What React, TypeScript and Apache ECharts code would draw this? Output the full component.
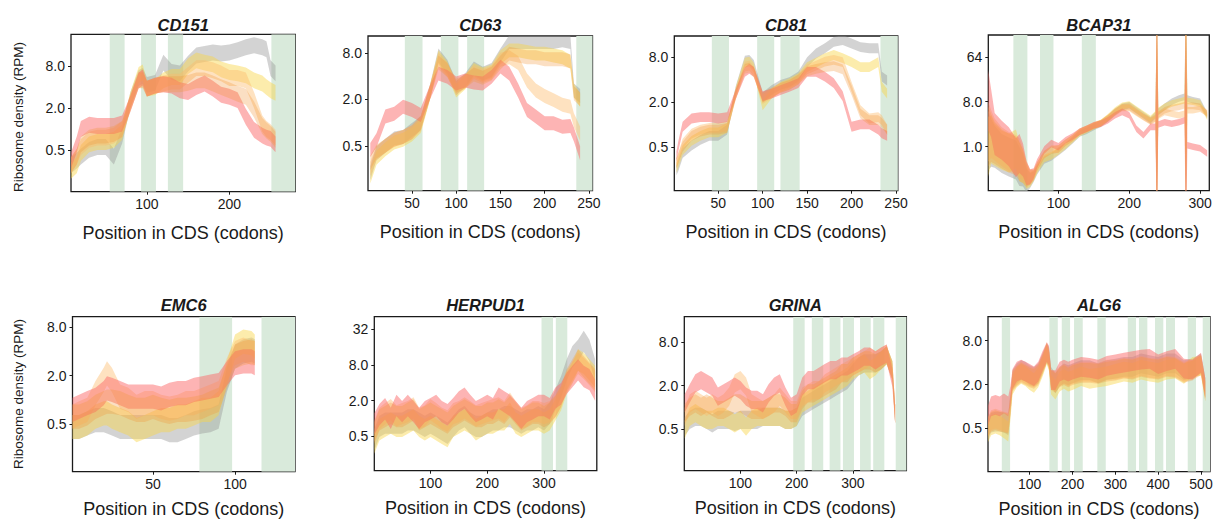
import React, { useEffect, useRef } from "react";
import * as echarts from "echarts";

// ---------- DATA ----------
const GENES = ["CD151", "CD63", "CD81", "BCAP31", "EMC6", "HERPUD1", "GRINA", "ALG6"];
const X_NAME = "Position in CDS (codons)";
const Y_NAME = "Ribosome density (RPM)";

// CD151
const xs1 = [8, 15, 20, 30, 40, 50, 60, 70, 80, 90, 95, 100, 110, 120, 130, 140, 150, 160, 170, 180, 190, 200, 210, 220, 230, 240, 245, 250, 256];
const gray1 = [0.3, 0.35, 0.4, 0.5, 0.55, 0.55, 0.4, 0.8, 2.6, 5.4, 5.8, 4.3, 4.6, 9.0, 6.6, 6.3, 8.7, 11.4, 12, 12.6, 12.2, 12.6, 13.6, 15, 16, 15, 14, 7.5, 6.3];
const yellow1 = [0.25, 0.3, 0.45, 0.6, 0.65, 0.65, 0.7, 0.9, 2.6, 6.0, 6.5, 3.8, 4.0, 5.0, 5.6, 5.6, 8.0, 9.7, 9.0, 8.5, 7.2, 6.6, 6.3, 5.9, 5.0, 4.5, 4.0, 3.6, 3.3];
const peach1 = [0.3, 0.4, 0.55, 0.7, 0.75, 0.75, 0.8, 1.0, 2.4, 5.0, 5.2, 3.8, 4.2, 4.5, 4.8, 4.8, 6.0, 7.5, 7.5, 7.0, 6.3, 5.4, 5.4, 5.0, 2.6, 1.2, 1.0, 0.9, 0.75];
const orange1 = [0.3, 0.4, 0.6, 0.75, 0.8, 0.8, 0.85, 1.0, 2.3, 5.0, 5.0, 3.8, 4.2, 4.4, 4.4, 4.4, 4.6, 5.0, 5.0, 4.5, 4.0, 3.6, 3.2, 2.9, 1.9, 1.1, 0.95, 0.85, 0.7];
const red1 = [0.35, 0.6, 1.0, 1.15, 1.1, 1.1, 1.1, 1.2, 2.3, 5.0, 5.5, 3.8, 4.2, 4.4, 4.2, 3.6, 3.4, 4.0, 4.5, 3.8, 3.1, 2.9, 2.6, 1.5, 0.97, 0.8, 0.75, 0.72, 0.6];
const spread1 = 0.38;
const shade1 = [[55, 73], [93, 111], [125.5, 144], [251, 280]];

// CD63
const xs2 = [3, 10, 20, 30, 40, 50, 60, 70, 80, 90, 100, 110, 120, 130, 140, 150, 160, 170, 180, 190, 200, 210, 220, 229, 233, 240];
const gray2 = [0.22, 0.4, 0.5, 0.62, 0.65, 0.8, 0.98, 2.4, 7.4, 5.3, 2.8, 3.5, 5.0, 4.3, 4.8, 7.4, 11, 11, 11, 11, 11, 11, 11.6, 11, 2.6, 2.2];
const yellow2 = [0.2, 0.35, 0.45, 0.55, 0.6, 0.7, 0.9, 2.3, 7.0, 5.0, 2.6, 3.3, 4.8, 4.2, 4.6, 7.0, 8.6, 8.6, 8.2, 7.8, 7.8, 7.4, 7.0, 6.1, 2.6, 1.95];
const peach2 = [0.25, 0.4, 0.5, 0.6, 0.65, 0.75, 0.95, 2.4, 6.5, 4.8, 2.8, 3.4, 4.5, 4.0, 4.4, 6.5, 7.0, 5.9, 3.5, 2.6, 2.2, 1.95, 1.7, 1.6, 1.07, 0.72];
const orange2 = [0.3, 0.42, 0.5, 0.6, 0.65, 0.75, 1.0, 2.4, 6.0, 4.8, 3.0, 3.4, 4.2, 3.8, 4.3, 6.0, 7.8, 7.4, 7.0, 7.0, 6.6, 6.6, 6.6, 6.2, 2.4, 2.0];
const red2 = [0.44, 0.59, 1.2, 1.3, 1.6, 1.45, 1.25, 2.4, 4.3, 3.9, 3.2, 3.5, 3.3, 3.2, 3.9, 5.3, 4.3, 2.6, 1.45, 1.2, 0.98, 0.98, 0.88, 0.9, 0.7, 0.4];
const spread2 = 0.3;
const shade2 = [[42, 62], [82.7, 102.5], [112.4, 131.6], [235.7, 254]];

// CD81
const xs3 = [3, 5, 10, 20, 30, 40, 50, 60, 70, 80, 85, 90, 100, 110, 120, 130, 140, 150, 160, 170, 180, 190, 200, 210, 220, 230, 234, 240];
const gray3 = [0.24, 0.27, 0.41, 0.52, 0.62, 0.7, 0.7, 0.85, 2.9, 7.2, 7.4, 6.3, 2.3, 2.9, 3.4, 3.7, 4.4, 6.9, 9.0, 10.6, 12.9, 13.7, 12.3, 11.0, 10.6, 10.6, 4.4, 3.9];
const yellow3 = [0.26, 0.3, 0.45, 0.6, 0.7, 0.78, 0.78, 0.9, 2.8, 6.8, 7.0, 5.8, 1.8, 2.6, 3.2, 3.6, 4.2, 5.9, 6.8, 7.8, 8.6, 7.8, 6.9, 5.9, 5.9, 6.9, 3.2, 2.6];
const peach3 = [0.3, 0.35, 0.55, 0.75, 0.85, 0.9, 0.9, 0.95, 2.6, 6.0, 6.2, 5.2, 2.2, 2.6, 3.1, 3.4, 4.0, 5.5, 6.2, 7.0, 7.4, 6.9, 3.2, 1.55, 1.2, 1.25, 1.14, 0.85];
const orange3 = [0.3, 0.35, 0.5, 0.7, 0.8, 0.85, 0.85, 0.9, 2.6, 5.6, 5.8, 5.0, 2.3, 2.7, 3.1, 3.4, 4.0, 5.2, 5.6, 5.9, 6.1, 5.5, 2.9, 1.4, 1.14, 1.14, 1.05, 0.85];
const red3 = [0.37, 0.5, 0.93, 1.2, 1.25, 1.25, 1.2, 1.25, 2.6, 5.1, 5.6, 5.1, 2.4, 2.6, 2.9, 3.2, 3.6, 5.1, 5.1, 4.4, 3.6, 2.4, 0.93, 1.0, 1.0, 0.85, 0.76, 0.7];
const spread3 = 0.22;
const shade3 = [[42.8, 62.1], [93.8, 113], [120, 141.6], [232.5, 252]];

// BCAP31
const xs4 = [1, 5, 10, 20, 30, 40, 45, 50, 55, 60, 65, 70, 80, 90, 100, 110, 120, 130, 140, 150, 160, 170, 180, 190, 200, 210, 220, 230, 237, 239, 241, 250, 260, 270, 278, 280, 282, 290, 300, 310];
const gray4 = [1.35, 1.2, 1.0, 0.73, 0.62, 0.54, 0.4, 0.34, 0.21, 0.21, 0.25, 0.34, 0.54, 0.62, 0.79, 1.0, 1.35, 1.84, 2.1, 2.5, 2.9, 3.7, 5.0, 6.3, 6.8, 5.4, 4.3, 3.4, 4.3, 4.8, 5.0, 6.3, 8.0, 9.3, 10, 9.6, 9.3, 8.6, 8.0, 4.3];
const yellow4 = [1.0, 1.4, 1.1, 0.85, 0.75, 0.9, 0.5, 0.4, 0.25, 0.22, 0.26, 0.36, 0.58, 0.66, 0.82, 1.05, 1.4, 1.9, 2.2, 2.6, 3.0, 3.9, 5.3, 6.6, 7.0, 5.6, 4.5, 3.6, 4.5, 5.0, 5.2, 6.3, 7.4, 8.0, 8.6, 8.6, 8.3, 8.0, 7.4, 4.0];
const peach4 = [2.0, 1.8, 1.4, 1.0, 0.8, 0.7, 0.6, 0.45, 0.3, 0.25, 0.27, 0.4, 0.7, 0.9, 0.9, 1.2, 1.5, 2.0, 2.3, 2.7, 3.0, 3.7, 4.8, 6.0, 6.0, 4.8, 3.9, 3.2, 3.6, 4.0, 4.2, 5.0, 4.6, 4.3, 4.6, 5.0, 5.4, 5.4, 5.8, 4.7];
const orange4 = [1.6, 1.5, 1.2, 0.9, 0.75, 0.65, 0.5, 0.4, 0.27, 0.24, 0.27, 0.4, 0.7, 0.85, 0.9, 1.2, 1.5, 2.0, 2.3, 2.6, 3.0, 3.8, 5.0, 6.2, 6.3, 5.0, 4.0, 3.3, 3.8, 4.2, 4.4, 5.4, 6.0, 6.3, 6.8, 6.8, 6.6, 6.6, 6.3, 4.6];
const red4 = [8.6, 4.7, 1.8, 1.35, 1.0, 0.6, 0.73, 0.54, 0.29, 0.25, 0.29, 0.46, 0.86, 1.16, 1.0, 1.35, 1.6, 2.0, 2.3, 2.7, 2.9, 3.4, 4.3, 5.0, 4.3, 2.3, 1.7, 2.5, 2.5, 2.6, 2.8, 3.1, 2.9, 3.1, 3.4, 2.0, 1.07, 1.0, 0.93, 0.73];
const spread4 = [2.0, 1.6, 1.4, 1.3, 1.3, 1.3, 1.3, 1.1, 0.8, 0.5, 0.35, 0.3, 0.25, 0.25, 0.25, 0.22, 0.22, 0.22, 0.22, 0.22, 0.22, 0.22, 0.22, 0.22, 0.22, 0.22, 0.22, 0.22, 0.22, 8, 0.22, 0.22, 0.22, 0.22, 0.22, 8, 0.22, 0.22, 0.22, 0.22];
const shade4 = [[36.4, 56.2], [74, 93], [133, 152.8]];

// EMC6
const xs5 = [1, 5, 10, 15, 20, 22, 25, 30, 35, 40, 45, 50, 55, 60, 65, 70, 75, 80, 85, 90, 95, 100, 105, 110, 112];
const gray5 = [0.46, 0.46, 0.51, 0.56, 0.56, 0.54, 0.51, 0.46, 0.46, 0.46, 0.46, 0.46, 0.46, 0.42, 0.42, 0.46, 0.51, 0.54, 0.56, 0.62, 1.77, 3.45, 4.0, 4.2, 4.0];
const yellow5 = [0.46, 0.46, 0.51, 0.62, 0.68, 0.68, 0.62, 0.56, 0.51, 0.42, 0.46, 0.51, 0.56, 0.56, 0.62, 0.62, 0.68, 0.75, 0.75, 0.91, 2.14, 4.6, 5.3, 5.06, 4.6];
const peach5 = [0.62, 0.68, 0.75, 1.21, 1.77, 2.14, 1.77, 1.1, 1.0, 0.82, 0.91, 0.91, 0.82, 0.78, 0.82, 0.91, 0.91, 1.0, 1.1, 1.21, 2.35, 3.8, 4.2, 3.8, 3.8];
const orange5 = [0.62, 0.62, 0.68, 0.82, 0.91, 0.95, 0.95, 0.91, 0.82, 0.75, 0.75, 0.82, 0.75, 0.71, 0.75, 0.75, 0.78, 0.82, 0.91, 1.0, 1.94, 3.45, 3.8, 4.0, 3.8];
const red5 = [0.75, 0.82, 0.91, 1.0, 1.21, 1.39, 1.33, 1.21, 1.1, 1.1, 1.1, 1.1, 1.04, 1.15, 1.21, 1.21, 1.33, 1.39, 1.46, 1.53, 2.14, 2.85, 3.0, 3.0, 2.85];
const spread5 = 0.5;
const shade5 = [[78.3, 98.2], [116.1, 136.5]];

// HERPUD1
const xs6 = [1, 10, 20, 30, 40, 50, 60, 70, 80, 90, 100, 110, 120, 130, 140, 150, 160, 170, 180, 190, 200, 210, 220, 230, 240, 250, 260, 270, 280, 290, 300, 310, 320, 330, 340, 350, 360, 370, 380, 390];
const gray6 = [0.43, 0.73, 0.83, 0.83, 0.83, 0.83, 0.94, 0.94, 0.83, 0.73, 0.83, 0.73, 0.64, 0.56, 0.73, 0.94, 1.07, 0.83, 0.73, 0.73, 0.83, 0.94, 0.94, 1.07, 1.07, 0.94, 0.83, 0.94, 0.94, 1.07, 0.94, 1.22, 2.05, 3.4, 6.6, 11, 14, 20, 14, 6.6];
const yellow6 = [0.38, 0.64, 0.73, 0.83, 0.73, 0.73, 0.83, 0.94, 0.73, 0.64, 0.73, 0.64, 0.56, 0.49, 0.73, 0.83, 0.94, 0.83, 0.64, 0.73, 0.83, 0.83, 0.94, 0.94, 1.22, 0.83, 0.73, 0.83, 0.94, 0.94, 0.83, 0.94, 1.39, 2.05, 3.9, 5.8, 9.7, 8.5, 6.6, 5.1];
const peach6 = [0.6, 1.0, 1.2, 1.4, 1.1, 1.2, 1.3, 1.5, 1.0, 1.1, 1.4, 1.2, 1.0, 0.9, 1.2, 1.3, 1.5, 1.3, 1.1, 1.2, 1.3, 1.4, 1.5, 1.3, 1.8, 1.3, 1.0, 1.1, 1.3, 1.3, 1.2, 1.3, 1.6, 2.4, 4.2, 6.0, 8.5, 7.0, 5.5, 4.2];
const orange6 = [0.56, 0.94, 1.07, 1.22, 1.07, 1.07, 1.22, 1.39, 0.94, 1.07, 1.22, 1.07, 0.94, 0.83, 1.07, 1.22, 1.39, 1.22, 1.07, 1.07, 1.22, 1.22, 1.39, 1.22, 1.58, 1.22, 0.94, 1.07, 1.22, 1.22, 1.07, 1.22, 1.58, 2.33, 4.5, 6.6, 9.7, 7.5, 5.8, 4.5];
const red6 = [0.8, 1.15, 1.45, 1.0, 1.65, 1.3, 1.65, 1.3, 1.0, 1.3, 1.45, 1.65, 1.3, 1.15, 1.45, 1.9, 2.2, 1.65, 1.3, 1.45, 1.65, 1.45, 2.2, 1.9, 1.65, 1.3, 1.0, 1.3, 1.45, 1.65, 1.65, 1.45, 2.2, 2.6, 3.9, 5.1, 6.6, 5.1, 4.5, 3.0];
const spread6 = 0.6;
const shade6 = [[295.6, 315.9], [320.8, 341]];

// GRINA
const xs7 = [1, 10, 20, 30, 40, 50, 60, 70, 80, 90, 100, 110, 120, 130, 140, 150, 160, 170, 180, 190, 200, 210, 220, 230, 240, 250, 260, 270, 280, 290, 300, 310, 320, 330, 340, 350, 360, 370, 375];
const gray7 = [0.54, 0.67, 0.74, 0.74, 0.67, 0.6, 0.67, 0.67, 0.67, 0.63, 0.67, 0.67, 0.67, 0.67, 0.74, 0.74, 0.74, 0.74, 0.67, 0.67, 0.74, 1.02, 1.14, 1.27, 1.41, 1.57, 1.74, 1.94, 2.16, 2.4, 3.0, 3.7, 4.1, 4.1, 4.1, 4.5, 5.3, 3.3, 0.8];
const yellow7 = [0.49, 0.74, 0.83, 0.74, 0.67, 0.67, 0.74, 0.74, 0.67, 0.6, 0.67, 0.54, 0.67, 0.74, 0.74, 0.74, 0.74, 0.74, 0.67, 0.67, 0.74, 1.14, 1.27, 1.41, 1.57, 1.74, 1.94, 2.16, 2.4, 2.67, 3.3, 3.7, 4.1, 3.3, 3.7, 4.5, 5.3, 3.3, 0.8];
const peach7 = [0.74, 1.14, 1.27, 1.14, 1.02, 1.14, 1.02, 1.14, 1.41, 2.16, 2.4, 1.94, 1.14, 1.02, 0.92, 1.02, 1.14, 1.41, 1.14, 0.92, 0.92, 1.41, 1.57, 1.74, 1.74, 2.16, 2.4, 2.67, 3.0, 3.3, 3.7, 4.1, 4.5, 5.06, 4.5, 5.06, 5.6, 3.0, 0.8];
const orange7 = [0.83, 1.02, 1.14, 1.02, 1.14, 1.02, 0.92, 0.92, 1.02, 1.14, 1.14, 1.02, 0.92, 0.92, 0.92, 1.02, 1.14, 1.14, 1.02, 0.83, 0.83, 1.27, 1.57, 1.57, 1.74, 1.94, 2.16, 2.4, 3.0, 3.0, 3.7, 4.1, 4.5, 4.5, 4.1, 4.5, 5.3, 3.3, 0.8];
const red7 = [1.14, 1.57, 2.16, 2.4, 2.16, 1.94, 1.41, 1.57, 1.74, 1.94, 1.74, 1.41, 1.27, 1.27, 1.14, 1.57, 1.94, 2.16, 1.41, 1.02, 1.14, 1.94, 2.4, 2.4, 2.67, 3.0, 3.3, 3.3, 3.7, 3.7, 4.1, 4.5, 5.06, 5.06, 4.5, 5.06, 5.6, 2.6, 0.8];
const spread7 = 0.42;
const shade7 = [[193.9, 214.2], [226.9, 247.2], [258.6, 277.8], [282.2, 301.8], [312.6, 331.6], [336, 355.8], [376, 395]];

// ALG6
const xs8 = [1, 10, 20, 30, 40, 50, 55, 60, 70, 80, 90, 100, 110, 120, 130, 140, 145, 150, 160, 170, 180, 190, 200, 220, 240, 260, 280, 300, 320, 340, 360, 380, 400, 420, 440, 460, 480, 500, 510];
const gray8 = [0.45, 0.6, 0.62, 0.62, 0.6, 0.55, 1.1, 2.3, 2.85, 3.16, 3.0, 2.7, 2.56, 2.85, 3.9, 5.4, 4.8, 2.56, 2.07, 2.56, 2.85, 2.7, 2.85, 3.16, 3.16, 2.85, 3.16, 3.3, 3.5, 3.5, 3.9, 3.7, 3.5, 3.9, 3.9, 3.16, 3.3, 3.9, 1.8];
const yellow8 = [0.42, 0.55, 0.58, 0.55, 0.5, 0.45, 0.9, 2.0, 2.5, 2.8, 2.6, 2.3, 2.1, 2.5, 3.5, 5.2, 4.2, 2.0, 1.7, 2.2, 2.4, 2.2, 2.3, 2.6, 2.4, 2.5, 2.6, 2.8, 3.0, 2.9, 3.2, 3.0, 2.9, 3.2, 3.3, 2.8, 3.5, 3.6, 1.6];
const peach8 = [0.5, 0.65, 0.68, 0.65, 0.62, 0.6, 1.1, 2.3, 2.7, 3.0, 2.8, 2.6, 2.5, 2.8, 3.9, 5.6, 4.5, 2.4, 2.2, 2.6, 2.8, 2.6, 2.8, 3.0, 3.0, 2.9, 3.2, 3.2, 3.4, 3.3, 3.6, 3.4, 3.3, 3.6, 3.5, 3.0, 3.2, 3.8, 1.7];
const orange8 = [0.5, 0.62, 0.65, 0.62, 0.6, 0.58, 1.0, 2.2, 2.6, 2.9, 2.7, 2.5, 2.4, 2.7, 3.7, 5.4, 4.4, 2.3, 2.1, 2.5, 2.7, 2.5, 2.7, 2.9, 2.9, 2.8, 3.0, 3.1, 3.3, 3.2, 3.5, 3.3, 3.2, 3.5, 3.4, 2.9, 3.1, 3.7, 1.6];
const red8 = [0.7, 1.0, 1.05, 1.0, 1.1, 1.0, 1.4, 2.4, 3.0, 3.2, 3.0, 2.8, 2.6, 3.0, 4.2, 5.6, 5.0, 2.3, 2.3, 3.0, 3.2, 3.0, 3.2, 3.5, 3.4, 3.2, 3.6, 3.8, 4.0, 4.2, 4.4, 4.5, 3.8, 4.2, 4.5, 3.3, 3.2, 4.0, 1.8];
const spread8 = 0.45;
const shade8 = [[34.9, 54.3], [146, 165.6], [174.9, 194.3], [203.6, 223.9], [258, 277.6], [329, 348.3], [355.3, 374.7], [392.6, 412], [418.3, 439.3], [469, 488.3], [504, 521]];

// axis ranges and tick labels
const xRanges = [[8, 280], [0.4, 254], [0.6, 252], [1, 313], [1, 136.5], [1, 393], [0.3, 395], [2.7, 521]];
const yRanges = [[0.125, 23], [0.131, 13.2], [0.128, 15.5], [0.131, 175], [0.128, 10.8], [0.13, 52.3], [0.132, 18.2], [0.127, 17.1]];
const xTicks = [[100, 200], [50, 100, 150, 200, 250], [50, 100, 150, 200, 250], [100, 200, 300], [50, 100], [100, 200, 300], [100, 200, 300], [100, 200, 300, 400, 500]];
const yTicks = [[0.5, 2, 8], [0.5, 2, 8], [0.5, 2, 8], [1, 8, 64], [0.5, 2, 8], [0.5, 2, 8, 32], [0.5, 2, 8], [0.5, 2, 8]];

// ---------- LAYOUT / STYLE ----------
const BOXES = [
  [71, 34.3, 295.3, 191.7],
  [368, 36, 592.5, 190.7],
  [674.3, 36, 897.8, 190.7],
  [988.3, 35, 1209.3, 190.7],
  [72.5, 316.7, 295, 471.7],
  [374.3, 316.7, 596.8, 470.7],
  [684.3, 316.7, 906.4, 470.7],
  [988, 316.7, 1210, 471.7],
];
const FONT = '"Liberation Sans", Arial, Helvetica, sans-serif';
const INK = "#1a1a1a";
const BAND_COLORS = {
  gray: "rgba(150,150,150,0.42)",
  yellow: "rgba(248,212,70,0.45)",
  peach: "rgba(253,185,105,0.42)",
  red: "rgba(252,105,105,0.5)",
  orange: "rgba(242,150,55,0.3)",
};
const SHADE_COLOR = "#d9eadb";

const PANELS = [
  { xs: xs1, s: { gray: gray1, yellow: yellow1, peach: peach1, red: red1, orange: orange1 }, spread: spread1, shade: shade1 },
  { xs: xs2, s: { gray: gray2, yellow: yellow2, peach: peach2, red: red2, orange: orange2 }, spread: spread2, shade: shade2 },
  { xs: xs3, s: { gray: gray3, yellow: yellow3, peach: peach3, red: red3, orange: orange3 }, spread: spread3, shade: shade3 },
  { xs: xs4, s: { gray: gray4, yellow: yellow4, peach: peach4, red: red4, orange: orange4 }, spread: spread4, shade: shade4 },
  { xs: xs5, s: { gray: gray5, yellow: yellow5, peach: peach5, red: red5, orange: orange5 }, spread: spread5, shade: shade5 },
  { xs: xs6, s: { gray: gray6, yellow: yellow6, peach: peach6, red: red6, orange: orange6 }, spread: spread6, shade: shade6 },
  { xs: xs7, s: { gray: gray7, yellow: yellow7, peach: peach7, red: red7, orange: orange7 }, spread: spread7, shade: shade7 },
  { xs: xs8, s: { gray: gray8, yellow: yellow8, peach: peach8, red: red8, orange: orange8 }, spread: spread8, shade: shade8 },
];
const DRAW_ORDER = ["gray", "yellow", "peach", "red", "orange"];

function fmtLog(v: number) {
  const r = Math.pow(2, v);
  if (r >= 16) return String(Math.round(r));
  return r.toFixed(1);
}

function bandSeries(i: number, xs: number[], vals: number[], spread: number | number[], color: string) {
  const pts = xs.map((x, k) => {
    const sp = Array.isArray(spread) ? spread[k] : spread;
    const c = Math.log2(vals[k]);
    return [x, c - sp, c + sp];
  });
  return {
    type: "custom",
    xAxisIndex: i,
    yAxisIndex: i,
    clip: true,
    silent: true,
    data: pts,
    encode: { x: 0, y: [1, 2] },
    renderItem: (params: any, api: any) => {
      if (params.dataIndex !== 0) return null;
      const upper = pts.map((p) => api.coord([p[0], p[2]]));
      const lower = pts.map((p) => api.coord([p[0], p[1]])).reverse();
      return {
        type: "polygon",
        shape: { points: upper.concat(lower) },
        style: { fill: color, stroke: "none" },
      };
    },
  };
}

function shadeSeries(i: number, shade: number[][]) {
  return {
    type: "custom",
    xAxisIndex: i,
    yAxisIndex: i,
    clip: true,
    silent: true,
    data: shade,
    encode: { x: [0, 1] },
    renderItem: (params: any, api: any) => {
      const cs = params.coordSys;
      const a = api.coord([api.value(0), 0]);
      const b = api.coord([api.value(1), 0]);
      return {
        type: "rect",
        shape: { x: a[0], y: cs.y, width: b[0] - a[0], height: cs.height },
        style: { fill: SHADE_COLOR },
      };
    },
  };
}

function buildOption() {
  const grid: any[] = [];
  const xAxis: any[] = [];
  const yAxis: any[] = [];
  const series: any[] = [];
  const graphic: any[] = [];

  PANELS.forEach((p, i) => {
    const [l, t, r, b] = BOXES[i];
    const topRow = i < 4;
    grid.push({
      left: l, top: t, width: r - l, height: b - t,
      show: true, borderColor: INK, borderWidth: 1.3, backgroundColor: "transparent",
      containLabel: false, outerBoundsMode: "none",
    });
    xAxis.push({
      gridIndex: i, type: "value", position: "bottom", min: xRanges[i][0], max: xRanges[i][1],
      name: X_NAME, nameLocation: "middle", nameGap: topRow ? 32 : 28,
      nameTextStyle: { fontSize: 18, color: INK, fontFamily: FONT },
      axisLine: { show: false, onZero: false },
      axisTick: { show: true, length: 3, customValues: xTicks[i], lineStyle: { color: INK, width: 1 } },
      axisLabel: { customValues: xTicks[i], margin: 5, fontSize: 14, color: INK, fontFamily: FONT },
      splitLine: { show: false },
    });
    const yt = yTicks[i].map((v) => Math.log2(v));
    yAxis.push({
      gridIndex: i, type: "value", position: "left", min: Math.log2(yRanges[i][0]), max: Math.log2(yRanges[i][1]),
      axisLine: { show: false, onZero: false },
      axisTick: { show: true, length: 3, customValues: yt, lineStyle: { color: INK, width: 1 } },
      axisLabel: { customValues: yt, margin: 6, fontSize: 14, color: INK, fontFamily: FONT, formatter: fmtLog },
      splitLine: { show: false },
    });
    series.push(shadeSeries(i, p.shade));
    DRAW_ORDER.forEach((k) => {
      series.push(bandSeries(i, p.xs, (p.s as any)[k], p.spread, (BAND_COLORS as any)[k]));
    });
    graphic.push({
      type: "text",
      x: (l + r) / 2, y: topRow ? 25 : 304.5,
      style: {
        text: GENES[i], fill: INK, fontSize: 16.5, fontWeight: "bold", fontStyle: "italic",
        fontFamily: FONT, align: "center", verticalAlign: "middle",
      },
    });
  });

  graphic.push({
    type: "text", x: 18, y: 117, rotation: Math.PI / 2,
    style: { text: Y_NAME, fill: INK, fontSize: 13.5, fontFamily: FONT, align: "center", verticalAlign: "middle" },
  });
  graphic.push({
    type: "text", x: 18, y: 394, rotation: Math.PI / 2,
    style: { text: Y_NAME, fill: INK, fontSize: 13.5, fontFamily: FONT, align: "center", verticalAlign: "middle" },
  });

  return { animation: false, backgroundColor: "#ffffff", grid, xAxis, yAxis, series, graphic };
}

export default function App() {
  const ref = useRef<HTMLDivElement>(null);
  useEffect(() => {
    const chart = echarts.init(ref.current!, null, { renderer: "svg" });
    chart.setOption(buildOption() as any);
    return () => chart.dispose();
  }, []);
  return (
    <div
      ref={ref}
      style={{ position: "fixed", left: 0, top: 0, width: 1223, height: 520, background: "#fff" }}
    />
  );
}
